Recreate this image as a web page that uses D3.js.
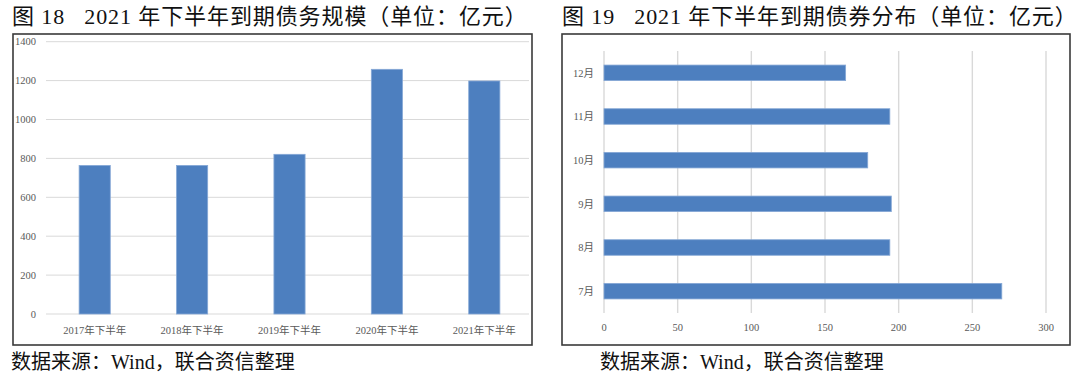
<!DOCTYPE html>
<html><head><meta charset="utf-8">
<script src="https://cdn.jsdelivr.net/npm/d3@7"></script>
<style>
html,body{margin:0;padding:0;background:#fff;}
svg{display:block;}
</style></head>
<body>
<svg id="c" width="1080" height="379"></svg>
<script>
// ---- data ----
const leftCategories = ["2017年下半年","2018年下半年","2019年下半年","2020年下半年","2021年下半年"];
const leftValues = [764, 764, 821, 1258, 1198];
const leftTicks = [0,200,400,600,800,1000,1200,1400];

const rightCategories = ["12月","11月","10月","9月","8月","7月"];
const rightValues = [164, 194, 179, 195, 194, 270];
const rightTicks = [0,50,100,150,200,250,300];

const titleLeft = "图 18\u00a0\u00a0\u00a02021 年下半年到期债务规模（单位：亿元）";
const titleRight = "图 19\u00a0\u00a0\u00a02021 年下半年到期债券分布（单位：亿元）";
const sourceText = "数据来源：Wind，联合资信整理";

const svg = d3.select("#c");
const FONT = "'Liberation Serif','Noto Sans CJK SC',serif";
const BAR = "#4d7fbf", BARSTROKE = "#86a8d6", GRID = "#d9d9d9", LBL = "#595959";

// ---- titles / sources ----
function title(x, t){
  svg.append("text").attr("x", x).attr("y", 24)
    .attr("font-family", FONT).attr("font-size", 22).attr("letter-spacing", 0.9)
    .attr("fill", "#111").text(t);
}
title(12, titleLeft);
title(562, titleRight);
function source(x){
  svg.append("text").attr("x", x).attr("y", 369)
    .attr("font-family", FONT).attr("font-size", 20).attr("fill", "#111").text(sourceText);
}
source(11);
source(600);

// ---- frames ----
svg.append("rect").attr("x",13).attr("y",34).attr("width",519).attr("height",311)
  .attr("fill","none").attr("stroke","#3a3a3a").attr("stroke-width",1.6);
svg.append("rect").attr("x",562).attr("y",34).attr("width",508).attr("height",311)
  .attr("fill","none").attr("stroke","#3a3a3a").attr("stroke-width",1.6);

// ---- left chart ----
const xL = d3.scaleBand().domain(leftCategories).range([46, 533]).paddingInner(0.68).paddingOuter(0.34);
const yL = d3.scaleLinear().domain([0, 1400]).range([314, 41.7]);
const gL = svg.append("g");
gL.append("g").selectAll("line").data(leftTicks).join("line")
  .attr("x1", 46).attr("x2", 529)
  .attr("y1", d => yL(d)).attr("y2", d => yL(d))
  .attr("stroke", GRID).attr("stroke-width", 1);
gL.append("g").selectAll("text").data(leftTicks).join("text")
  .attr("x", 36).attr("y", d => yL(d)).attr("dy", "0.35em").attr("text-anchor","end")
  .attr("font-family", FONT).attr("font-size", 10.5).attr("fill", LBL).text(d => d);
gL.append("g").selectAll("rect").data(leftCategories).join("rect")
  .attr("x", d => xL(d)).attr("width", xL.bandwidth())
  .attr("y", (d,i) => yL(leftValues[i])).attr("height", (d,i) => yL(0) - yL(leftValues[i]))
  .attr("fill", BAR).attr("stroke", BARSTROKE).attr("stroke-width", 0.8);
gL.append("g").selectAll("text").data(leftCategories).join("text")
  .attr("x", d => xL(d) + xL.bandwidth()/2).attr("y", 330).attr("dy","0.35em")
  .attr("text-anchor","middle").attr("font-family", FONT).attr("font-size", 10.5)
  .attr("fill", LBL).text(d => d);

// ---- right chart ----
const xR = d3.scaleLinear().domain([0, 300]).range([604, 1046]);
const yR = d3.scaleBand().domain(rightCategories).range([51, 313]).paddingInner(0.644).paddingOuter(0.322);
const gR = svg.append("g");
gR.append("g").selectAll("line").data(rightTicks).join("line")
  .attr("x1", d => xR(d)).attr("x2", d => xR(d))
  .attr("y1", 51).attr("y2", 313)
  .attr("stroke", GRID).attr("stroke-width", 1.4);
gR.append("g").selectAll("text").data(rightTicks).join("text")
  .attr("x", d => xR(d)).attr("y", 327).attr("dy","0.35em").attr("text-anchor","middle")
  .attr("font-family", FONT).attr("font-size", 10.5).attr("fill", LBL).text(d => d);
gR.append("g").selectAll("rect").data(rightCategories).join("rect")
  .attr("x", xR(0)).attr("y", d => yR(d)).attr("height", yR.bandwidth())
  .attr("width", (d,i) => xR(rightValues[i]) - xR(0))
  .attr("fill", BAR).attr("stroke", BARSTROKE).attr("stroke-width", 0.8);
gR.append("g").selectAll("text").data(rightCategories).join("text")
  .attr("x", 594).attr("y", d => yR(d) + yR.bandwidth()/2).attr("dy","0.35em")
  .attr("text-anchor","end").attr("font-family", FONT).attr("font-size", 10.5)
  .attr("fill", LBL).text(d => d);
</script>
</body></html>
